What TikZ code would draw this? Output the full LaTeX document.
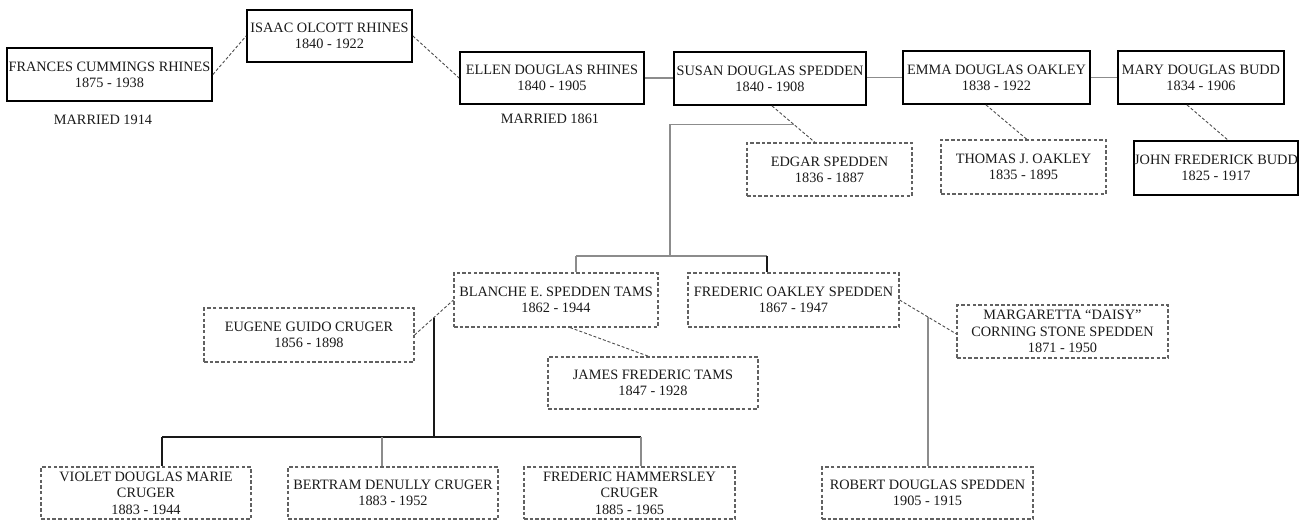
\documentclass[tikz,border=0pt]{standalone}
\usepackage{fontspec}
\setmainfont{Liberation Serif}
\begin{document}
\begin{tikzpicture}[x=1pt,y=-1pt,
  txt/.style={font=\fontsize{14.3}{16.3}\selectfont, align=center, inner sep=0pt, text=black!90},
  solidbox/.style={txt, draw=black, line width=1.8pt, rectangle},
  dashbox/.style={txt, draw=black!62, line width=1.1pt, dash pattern=on 3.5pt off 2.2pt, rectangle},
  three/.style={font=\fontsize{14.3}{16.5}\selectfont},
  gline/.style={draw=black!45, line width=1.3pt},
  bline/.style={draw=black!90, line width=1.1pt},
  dline/.style={draw=black!70, line width=0.9pt, dash pattern=on 3pt off 2pt},
  lbl/.style={font=\fontsize{14.3}{16}\selectfont, inner sep=0pt, text=black!90}]
\useasboundingbox (0,0) rectangle (1304,520);
% top row
\node[solidbox, minimum width=205pt, minimum height=53pt] (frances) at (109.5,74.5) {FRANCES CUMMINGS RHINES\\1875 - 1938};
\node[solidbox, minimum width=165pt, minimum height=52pt] (isaac) at (329.5,36) {ISAAC OLCOTT RHINES\\1840 - 1922};
\node[solidbox, minimum width=184pt, minimum height=52pt] (ellen) at (552,78) {ELLEN DOUGLAS RHINES\\1840 - 1905};
\node[solidbox, minimum width=192pt, minimum height=53pt] (susan) at (770,78.5) {SUSAN DOUGLAS SPEDDEN\\1840 - 1908};
\node[solidbox, minimum width=187pt, minimum height=53pt] (emma) at (996.5,77.5) {EMMA DOUGLAS OAKLEY\\1838 - 1922};
\node[solidbox, minimum width=166pt, minimum height=53pt] (mary) at (1201,77.5) {MARY DOUGLAS BUDD\\1834 - 1906};
\node[solidbox, minimum width=164pt, minimum height=54pt] (john) at (1216,168) {JOHN FREDERICK BUDD\\1825 - 1917};
\node[lbl, anchor=base] (m1914) at (103,124) {MARRIED 1914};
\node[lbl, anchor=base] (m1861) at (550,123) {MARRIED 1861};
% spouses
\node[dashbox, minimum width=165pt, minimum height=53pt] (edgar) at (829.5,169.5) {EDGAR SPEDDEN\\1836 - 1887};
\node[dashbox, minimum width=165pt, minimum height=54pt] (thomas) at (1023.5,167) {THOMAS J. OAKLEY\\1835 - 1895};
% second generation
\node[dashbox, minimum width=204pt, minimum height=54pt] (blanche) at (556,300) {BLANCHE E. SPEDDEN TAMS\\1862 - 1944};
\node[dashbox, minimum width=211pt, minimum height=54pt] (fo) at (793.5,300) {FREDERIC OAKLEY SPEDDEN\\1867 - 1947};
\node[dashbox, minimum width=210pt, minimum height=54pt] (eugene) at (309,335) {EUGENE GUIDO CRUGER\\1856 - 1898};
\node[dashbox, minimum width=210pt, minimum height=52pt] (james) at (653,383) {JAMES FREDERIC TAMS\\1847 - 1928};
\node[dashbox, three, minimum width=211pt, minimum height=53pt] (marg) at (1062.5,331.5) {MARGARETTA “DAISY”\\CORNING STONE SPEDDEN\\1871 - 1950};
% third generation
\node[dashbox, three, minimum width=210pt, minimum height=52pt] (violet) at (146,493) {VIOLET DOUGLAS MARIE\\CRUGER\\1883 - 1944};
\node[dashbox, minimum width=210pt, minimum height=52pt] (bertram) at (393,493) {BERTRAM DENULLY CRUGER\\1883 - 1952};
\node[dashbox, three, minimum width=211pt, minimum height=52pt] (fh) at (629.5,493) {FREDERIC HAMMERSLEY\\CRUGER\\1885 - 1965};
\node[dashbox, minimum width=211pt, minimum height=52pt] (robert) at (927.5,493) {ROBERT DOUGLAS SPEDDEN\\1905 - 1915};
% marriage connectors
\draw[dline] (frances.east) -- (isaac.west);
\draw[dline] (isaac.east) -- (ellen.west);
\draw[gline] (ellen.east) -- (ellen.east -| susan.west);
\draw[gline] (susan.east |- emma.west) -- (emma.west);
\draw[gline] (emma.east) -- (mary.west);
\draw[dline] ([xshift=2pt]susan.south) -- coordinate[pos=0.5] (sm) ([xshift=-14.5pt]edgar.north);
\draw[dline] ([xshift=-10.5pt]emma.south) -- ([xshift=3.5pt]thomas.north);
\draw[dline] ([xshift=-14pt]mary.south) -- ([xshift=12pt]john.north);
% Spedden children
\coordinate (sv) at (670,256);
\coordinate (bl) at (576,256);
\coordinate (fr) at (767,256);
\draw[gline] (sm) -| (sv);
\draw[gline] (bl) -- (fr);
\draw[gline] (bl) -- (bl |- blanche.north);
\draw[bline] (fr) -- (fr |- fo.north);
% Blanche marriages
\draw[dline] (eugene.east) -- coordinate[pos=0.5] (em) (blanche.west);
\draw[dline] ([xshift=14pt]blanche.south) -- ([xshift=-4pt]james.north);
% Cruger children
\coordinate (cl) at (162,437);
\coordinate (cb) at (382,437);
\coordinate (cr) at (641,437);
\draw[bline] (em) -- (em |- cl);
\draw[bline] (cl) -- (cr);
\draw[bline] (cl) -- (cl |- violet.north);
\draw[gline] (cb) -- (cb |- bertram.north);
\draw[gline] (cr) -- (cr |- fh.north);
% Frederic Oakley Spedden
\draw[dline] (fo.east) -- coordinate[pos=0.5] (fm) ([yshift=-2.5pt]marg.west);
\draw[gline] (fm) -- (fm |- robert.north);
\end{tikzpicture}
\end{document}
